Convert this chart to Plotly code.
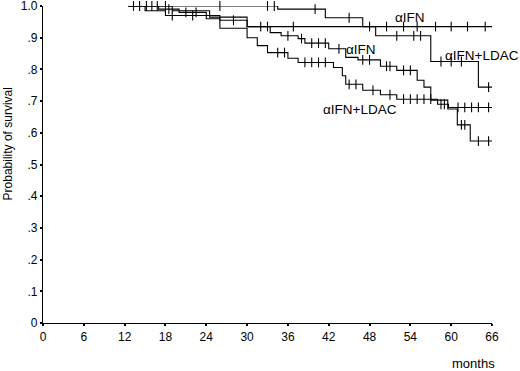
import plotly.graph_objects as go
import numpy as np

# ---- data ----
ifn_top_t = [12.5, 19, 24.5, 30, 66]
ifn_top_p = [1.0, 0.985, 0.965, 0.935, 0.935]
ifn_top_cens = [13.3, 14.2, 15.2, 16.0, 16.8, 18.0, 33, 36.8, 48, 50.5, 53, 55, 57.7, 60, 62.4, 65]

ldac_top_t = [12.5, 34.5, 41.5, 47, 48.9, 57, 64, 66]
ldac_top_p = [1.0, 0.99, 0.963, 0.935, 0.906, 0.825, 0.744, 0.744]
ldac_top_cens = [26, 33, 34, 40, 45, 52, 54.5, 55.5, 58.5, 60, 61.5, 65.5]

ifn_mid_t = [12.5, 17, 20, 24, 26, 30, 33.4, 35, 37.5, 38.5, 42, 44.5, 46.3, 49.6, 52, 55, 56, 57, 59.5, 60.9, 62.8, 66]
ifn_mid_p = [1.0, 0.99, 0.98, 0.97, 0.955, 0.935, 0.916, 0.906, 0.897, 0.883, 0.865, 0.838, 0.83, 0.81, 0.797, 0.766, 0.744, 0.703, 0.675, 0.625, 0.574, 0.574]
ifn_mid_cens = [18.5, 21, 22.5, 28, 32, 36, 38, 39.5, 40.5, 41.5, 43.5, 47, 48, 50.5, 51, 53, 54, 61.5, 62, 64, 65.5]

ldac_low_t = [12.5, 15, 18, 24, 26, 30, 31.5, 33, 36, 37.5, 42.7, 44, 44.5, 47, 49.6, 52, 58, 59.6, 66]
ldac_low_p = [1.0, 0.985, 0.97, 0.96, 0.93, 0.9, 0.875, 0.853, 0.835, 0.822, 0.806, 0.78, 0.753, 0.734, 0.72, 0.706, 0.69, 0.68, 0.68]
ldac_low_cens = [19, 22, 34.5, 35.5, 38.5, 39.5, 40.5, 41.5, 45, 46, 48.5, 51, 53, 54, 55, 56, 57, 58.5, 59, 61, 62, 63, 64, 65.5]

x_ticks = [0, 6, 12, 18, 24, 30, 36, 42, 48, 54, 60, 66]
y_ticks = [0, 0.1, 0.2, 0.3, 0.4, 0.5, 0.6, 0.7, 0.8, 0.9, 1.0]
y_ticktext = ["0", ".1", ".2", ".3", ".4", ".5", ".6", ".7", ".8", ".9", "1.0"]

labels = [("αIFN", 54, 0.963, "center"), ("αIFN+LDAC", 58.8, 0.844, "left"),
          ("αIFN", 44.3, 0.863, "left"), ("αIFN+LDAC", 40.8, 0.675, "left")]

FONT = "Liberation Sans, Arial, sans-serif"


def step_value(ts, ps, t):
    idx = np.searchsorted(np.array(ts), t, side="right") - 1
    idx = max(0, min(idx, len(ps) - 1))
    return ps[idx]


fig = go.Figure()
for ts, ps, cens in [(ifn_top_t, ifn_top_p, ifn_top_cens),
                     (ldac_top_t, ldac_top_p, ldac_top_cens),
                     (ifn_mid_t, ifn_mid_p, ifn_mid_cens),
                     (ldac_low_t, ldac_low_p, ldac_low_cens)]:
    fig.add_trace(go.Scatter(x=ts, y=ps, mode="lines", line=dict(color="black", width=1.1, shape="hv"),
                             showlegend=False, hoverinfo="skip", cliponaxis=False))
    fig.add_trace(go.Scatter(x=cens, y=[step_value(ts, ps, c) for c in cens], mode="markers",
                             marker=dict(symbol="line-ns", size=7, line=dict(color="black", width=1.1)),
                             showlegend=False, hoverinfo="skip", cliponaxis=False))

for txt, x, y, anc in labels:
    fig.add_annotation(x=x, y=y, text=txt, showarrow=False, xanchor=anc, yanchor="middle",
                       font=dict(family=FONT, size=13.5, color="black"))

fig.add_annotation(xref="paper", yref="paper", x=0.959, y=-0.127, text="months", showarrow=False,
                   xanchor="center", yanchor="middle", font=dict(family=FONT, size=13, color="black"))
fig.add_annotation(xref="paper", yref="paper", x=-0.079, y=0.565, text="Probability of survival",
                   textangle=-90, showarrow=False, xanchor="center", yanchor="middle",
                   font=dict(family=FONT, size=12, color="black"))

fig.update_layout(
    width=520, height=371,
    margin=dict(l=43, r=28, t=6, b=48, autoexpand=False),
    plot_bgcolor="white", paper_bgcolor="white",
    font=dict(family=FONT, size=12, color="black"),
    xaxis=dict(range=[0, 66], tickvals=x_ticks, ticktext=[str(v) for v in x_ticks], automargin=False,
               showgrid=False, zeroline=False, showline=True, linecolor="black", linewidth=1.2,
               ticks="outside", ticklen=2, tickwidth=2, tickcolor="black", ticklabeloverflow="allow",
               tickfont=dict(family=FONT, size=12, color="black")),
    yaxis=dict(range=[0, 1.0], tickvals=y_ticks, ticktext=y_ticktext, automargin=False,
               showgrid=False, zeroline=False, showline=True, linecolor="black", linewidth=1.2,
               ticks="outside", ticklen=2, tickwidth=2, tickcolor="black", ticklabeloverflow="allow",
               tickfont=dict(family=FONT, size=12, color="black")),
)

fig.write_html("out.html", config={"displayModeBar": False, "staticPlot": True},
               post_script="document.body.style.margin='0';document.body.style.overflow='hidden';")
